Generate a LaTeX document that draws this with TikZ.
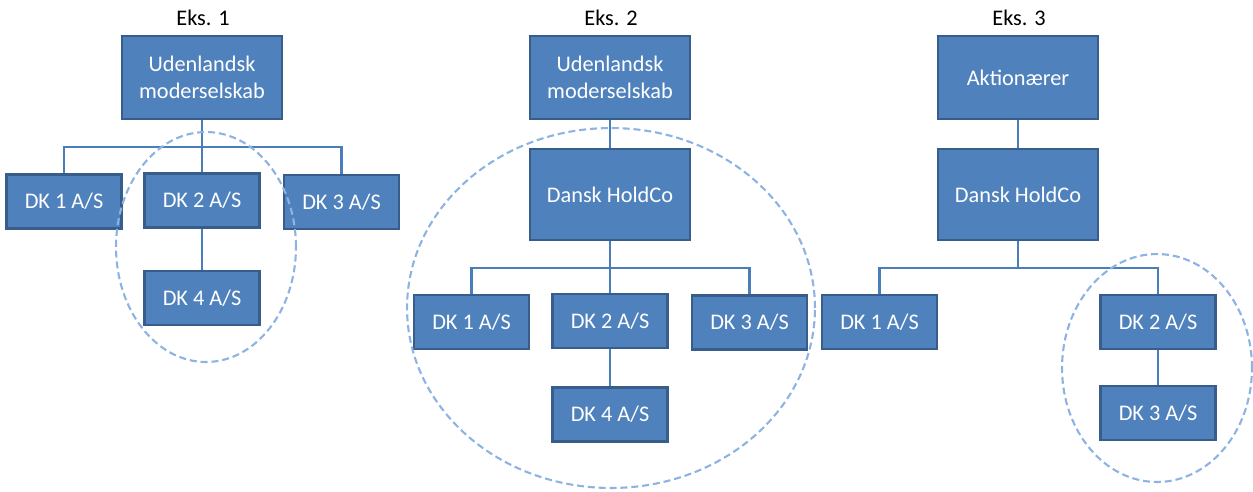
\documentclass[tikz,border=0pt]{standalone}
\usepackage{fontspec}
\setmainfont{Carlito}
\usetikzlibrary{shapes.geometric, positioning}
\definecolor{boxfill}{HTML}{4F81BD}
\definecolor{boxline}{HTML}{385D8A}
\definecolor{linkcol}{HTML}{4A7EBB}
\definecolor{grpcol}{HTML}{8DB3E2}

\begin{document}
\begin{tikzpicture}[
        x=0.02cm, y=0.02cm,
        font=\fontsize{12.7}{15.1}\selectfont,
        title/.style={text=black, inner sep=0pt},
        owner/.style={rectangle, draw=boxline, line width=1.2pt, fill=boxfill,
                      text=white, align=center, minimum width=3.2cm, minimum height=1.66cm},
        hold/.style={owner, minimum height=1.82cm},
        sub/.style={rectangle, draw=boxline, line width=1.2pt, fill=boxfill,
                    text=white, align=center, minimum width=2.3cm, minimum height=1.08cm},
        link/.style={draw=linkcol, line width=1.4pt},
        grp/.style={ellipse, draw=grpcol, line width=1.2pt, inner sep=0pt,
                    dash pattern=on 4pt off 2.2pt},
    ]
    \useasboundingbox (0,0) rectangle (1253,-491);

    % Eks. 1
    \node[title] (t1) at (203,-18) {Eks. 1};
    \node[owner] (mor1) at (202,-77.5) {Udenlandsk\\moderselskab};
    \node[sub] (dk11) at (64,-201.5) {DK 1 A/S};
    \node[sub] (dk12) at (202,-200.5) {DK 2 A/S};
    \node[sub] (dk13) at (341.5,-202) {DK 3 A/S};
    \node[sub] (dk14) at (202,-298) {DK 4 A/S};

    \draw[link] (mor1.south) -- ++(0,-27) -| (dk11.north);
    \draw[link] (mor1.south) -- (dk12.north);
    \draw[link] (mor1.south) -- ++(0,-27) -| (dk13.north);
    \draw[link] (dk12) -- (dk14);

    % Eks. 2
    \node[title] (t2) at (611,-18) {Eks. 2};
    \node[owner] (mor2) at (610,-77.5) {Udenlandsk\\moderselskab};
    \node[hold] (hold2) at (610,-194.5) {Dansk HoldCo};
    \node[sub] (dk21) at (471.5,-322) {DK 1 A/S};
    \node[sub] (dk22) at (610,-321) {DK 2 A/S};
    \node[sub] (dk23) at (749.5,-322.5) {DK 3 A/S};
    \node[sub] (dk24) at (610,-414.5) {DK 4 A/S};

    \draw[link] (mor2) -- (hold2);
    \draw[link] (hold2.south) -- ++(0,-27) -| (dk21.north);
    \draw[link] (hold2.south) -- (dk22.north);
    \draw[link] (hold2.south) -- ++(0,-27) -| (dk23.north);
    \draw[link] (dk22) -- (dk24);

    % Eks. 3
    \node[title] (t3) at (1019,-18) {Eks. 3};
    \node[owner] (akt3) at (1018,-77.5) {Aktionærer};
    \node[hold] (hold3) at (1018,-194.5) {Dansk HoldCo};
    \node[sub] (dk31) at (879.5,-322) {DK 1 A/S};
    \node[sub] (dk32) at (1158,-322) {DK 2 A/S};
    \node[sub] (dk33) at (1158,-413) {DK 3 A/S};

    \draw[link] (akt3) -- (hold3);
    \draw[link] (hold3.south) -- ++(0,-27) -| (dk31.north);
    \draw[link] (hold3.south) -- ++(0,-27) -| (dk32.north);
    \draw[link] (dk32) -- (dk33);

    % dashed groups
    \node[grp, minimum width=3.6cm, minimum height=4.6cm] (g1) at (206,-247) {};
    \node[grp, minimum width=8.16cm, minimum height=7.2cm] (g2) at (611,-308) {};
    \node[grp, minimum width=3.8cm, minimum height=4.56cm] (g3) at (1157,-368) {};
\end{tikzpicture}
\end{document}
